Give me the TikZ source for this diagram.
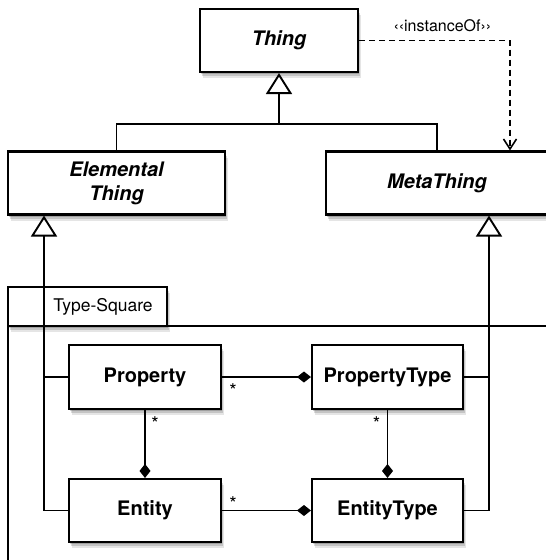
\documentclass[tikz,border=0pt]{standalone}
\usepackage{fontspec}
\setmainfont{TeX Gyre Heros}
\usetikzlibrary{arrows.meta,shadows}

\begin{document}
\begin{tikzpicture}[x=1pt,y=-1pt,
    shade box/.style={
        drop shadow={shadow xshift=1pt,shadow yshift=-2pt,opacity=.18,fill=black},
        drop shadow={shadow xshift=2pt,shadow yshift=-4pt,opacity=.14,fill=black},
        drop shadow={shadow xshift=3pt,shadow yshift=-6pt,opacity=.10,fill=black}},
    cls/.style={draw,fill=white,line width=2.1pt,align=center,inner sep=0pt,
        font=\fontsize{20}{24}\selectfont\bfseries,shade box},
    abstract/.style={cls,font=\fontsize{20}{24}\selectfont\bfseries\itshape},
    pkg/.style={draw,fill=white,line width=2.1pt,shade box},
    link/.style={line width=1.9pt},
    inherit/.style={link,-{Triangle[open,length=21pt,width=26pt,line width=1.9pt]}},
    owner/.style={link,-{Diamond[length=14pt,width=11pt]}},
    mult/.style={font=\fontsize{19}{19}\selectfont,inner sep=0pt}]
  \clip (0,0) rectangle (546,560);

  % the Type-Square package (tab and body)
  \draw[pkg] (8,326) rectangle (580,600);
  \draw[pkg] (8,287) rectangle (167,326);
  \node[font=\fontsize{17.5}{20}\selectfont] (pkgname) at (103,307) {Type-Square};

  % top level classes
  \node[abstract,minimum width=158pt,minimum height=63pt] (thing) at (279,40.5) {Thing};
  \node[abstract,minimum width=217pt,minimum height=63pt] (ething) at (116.5,183) {Elemental\\Thing};
  \node[abstract,minimum width=222pt,minimum height=63pt] (mthing) at (437,183) {MetaThing};

  % generalisation of Thing
  \coordinate (split) at (279,124);
  \draw[link] (ething.north) |- (split) -| (mthing.north);
  \draw[inherit] (split) -- (thing.south);

  % instanceOf dependency
  \draw[link,line width=1.6pt,dash pattern=on 6pt off 4pt,-{Straight Barb[length=10pt,width=13pt]}]
    (thing.east) -| ([xshift=73pt]mthing.north)
    node[pos=0.276,above=5pt,font=\fontsize{16}{16}\selectfont] (inst) {‹‹instanceOf››};

  % classes of the type square
  \node[cls,minimum width=152pt,minimum height=64pt] (property) at (145,377) {Property};
  \node[cls,minimum width=151pt,minimum height=64pt] (ptype) at (387.5,377) {PropertyType};
  \node[cls,minimum width=152pt,minimum height=63pt] (entity) at (145,510.5) {Entity};
  \node[cls,minimum width=151pt,minimum height=63pt] (etype) at (387.5,510.5) {EntityType};

  % generalisations into the square
  \coordinate (eup) at ([xshift=-72.5pt]ething.south);
  \coordinate (mup) at ([xshift=52pt]mthing.south);
  \draw[inherit] (entity.west) -| (eup);
  \draw[link] (property.west) -- (property.west -| eup);
  \draw[inherit] (etype.east) -| (mup);
  \draw[link] (ptype.east) -- (ptype.east -| mup);

  % compositions with multiplicities
  \draw[owner] (property.east) -- (ptype.west);
  \draw[owner] (property.south) -- (entity.north);
  \draw[owner] (ptype.south) -- (etype.north);
  \draw[owner] (entity.east) -- (etype.west);
  \node[mult] (m1) at ([shift={(11,14)}]property.east) {*};
  \node[mult] (m2) at ([shift={(10,14)}]property.south) {*};
  \node[mult] (m3) at ([shift={(-11,14)}]ptype.south) {*};
  \node[mult] (m4) at ([shift={(11,-7)}]entity.east) {*};
\end{tikzpicture}
\end{document}
